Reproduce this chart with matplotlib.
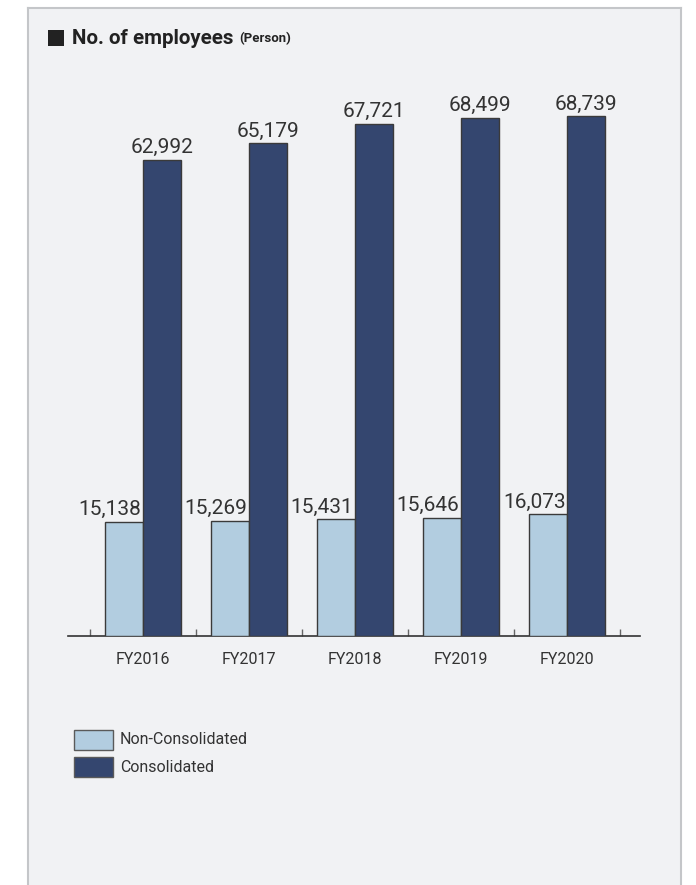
import matplotlib
matplotlib.use("Agg")
import matplotlib.pyplot as plt
from matplotlib.patches import Rectangle
from matplotlib.lines import Line2D
import numpy as np

years = ["FY2016", "FY2017", "FY2018", "FY2019", "FY2020"]
non_consolidated = [15138, 15269, 15431, 15646, 16073]
consolidated = [62992, 65179, 67721, 68499, 68739]

LIGHT = "#b2cde0"
DARK = "#34466f"
EDGE = "#3a3a3a"
PANEL = "#f1f2f4"
TEXT = "#333333"
FONT = ["Roboto", "DejaVu Sans"]

W, H = 696, 885
fig = plt.figure(figsize=(W / 100, H / 100), dpi=100)
fig.patch.set_facecolor("white")

# background panel with grey border (open at the bottom)
fig.add_artist(Rectangle((28 / W, 0), (681 - 28) / W, (H - 8) / H, transform=fig.transFigure,
                         facecolor=PANEL, edgecolor="none", zorder=-10))
for xs, ys in [([28, 28], [0, H - 8]), ([681, 681], [0, H - 8]), ([28, 681], [H - 8, H - 8])]:
    fig.add_artist(Line2D([v / W for v in xs], [v / H for v in ys],
                          transform=fig.transFigure, color="#c4c6c9", lw=1.5, zorder=-9))

# plotting area
ax_left, ax_right = 68, 640
ax_bottom = H - 636
ymax = 70000
px_per_unit = 0.00756
ax_h = ymax * px_per_unit
ax = fig.add_axes([ax_left / W, ax_bottom / H, (ax_right - ax_left) / W, ax_h / H])
ax.set_facecolor("none")
ax.set_zorder(5)

x = np.arange(len(years))
bw = 0.358
ax.bar(x - bw / 2, non_consolidated, bw, color=LIGHT, edgecolor=EDGE, linewidth=1, zorder=3)
ax.bar(x + bw / 2, consolidated, bw, color=DARK, edgecolor=EDGE, linewidth=1, zorder=3)

for i in range(len(years)):
    ax.annotate(f"{non_consolidated[i]:,}", (x[i] - bw / 2, non_consolidated[i]),
                xytext=(-10, 2), textcoords="offset points", ha="center", va="bottom",
                fontsize=15, color=TEXT, family=FONT)
    ax.annotate(f"{consolidated[i]:,}", (x[i] + bw / 2, consolidated[i]),
                xytext=(0, 2), textcoords="offset points", ha="center", va="bottom",
                fontsize=15, color=TEXT, family=FONT)

ax.set_xlim((ax_left - 143) / 106, (ax_right - 143) / 106)
ax.set_ylim(0, ymax)
for s in ["top", "right", "left"]:
    ax.spines[s].set_visible(False)
ax.spines["bottom"].set_color(TEXT)
ax.spines["bottom"].set_linewidth(1.2)
ax.set_yticks([])
ax.set_xticks(np.arange(-0.5, len(years), 1.0))
ax.set_xticklabels([])
ax.tick_params(axis="x", direction="in", length=5, width=1, color="#666666")
for i, lab in enumerate(years):
    ax.text(x[i], -0.03 * ymax, lab, ha="center", va="top", fontsize=11.5,
            color=TEXT, family=FONT)

# title
fig.add_artist(Rectangle((48 / W, (H - 46) / H), 16 / W, 16 / H, transform=fig.transFigure,
                         facecolor="#222222", edgecolor="none"))
title = fig.text(72 / W, (H - 39) / H, "No. of employees", fontsize=14.8, fontweight="bold",
                 color="#222222", va="center", ha="left", family=FONT)
fig.canvas.draw()
tb = title.get_window_extent()
fig.text((tb.x1 + 6) / W, (H - 39) / H, "(Person)", fontsize=9.5, fontweight="bold",
         color="#222222", va="center", ha="left", family=FONT)

# legend
for k, (lab, col) in enumerate([("Non-Consolidated", LIGHT), ("Consolidated", DARK)]):
    top = 730 + k * 27
    fig.add_artist(Rectangle((74 / W, (H - top - 20) / H), 39 / W, 20 / H,
                             transform=fig.transFigure, facecolor=col,
                             edgecolor="#5a5a5a", linewidth=1))
    fig.text(120 / W, (H - top - 10) / H, lab, fontsize=11.5, color=TEXT,
             va="center", ha="left", family=FONT)

fig.savefig("out.png", dpi=100, facecolor="white")
